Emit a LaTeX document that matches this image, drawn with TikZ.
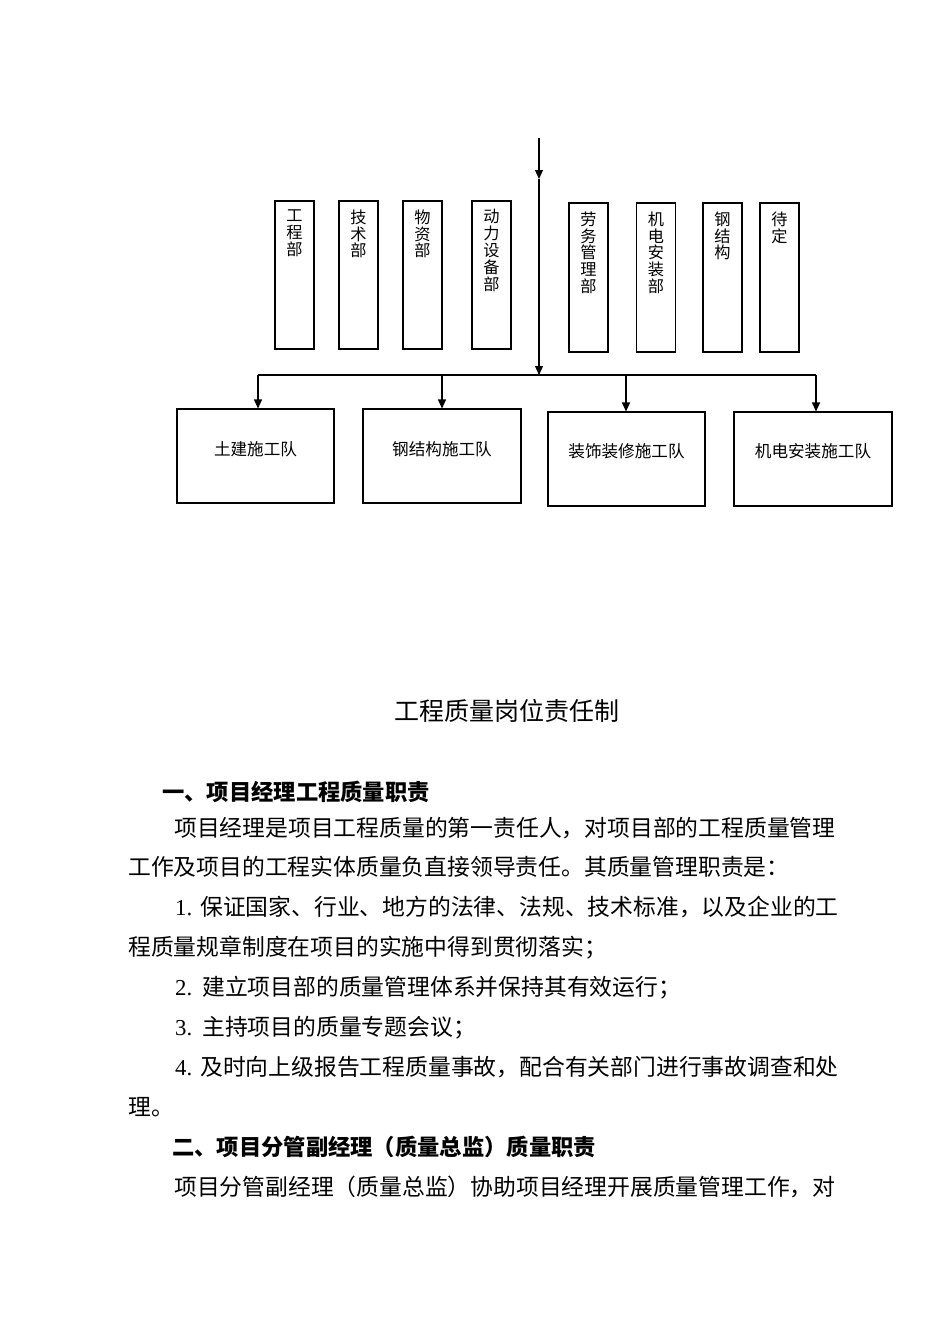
\documentclass[tikz,border=0pt]{standalone}
\usepackage{fontspec}
\newfontfamily\cjk{Noto Sans CJK SC}
\newfontfamily\lat{Liberation Serif}
\usetikzlibrary{arrows.meta}
\begin{document}
\begin{tikzpicture}[x=1pt,y=-1pt,
  line/.style={line width=1.1pt},
  conn/.style={line width=1.1pt,-{Triangle[length=9pt,width=8pt]}},
  dept/.style={draw,line width=1.1pt,minimum width=39pt,inner sep=0pt},
  dtext/.style={anchor=north,align=center,inner sep=0pt,font=\cjk\fontsize{16.2}{16.8}\selectfont},
  team/.style={draw,line width=1.1pt,minimum width=157pt,minimum height=94pt,inner sep=0pt},
  ttext/.style={inner sep=0pt,font=\cjk\fontsize{16.6}{18}\selectfont},
  body/.style={anchor=west,inner sep=0pt,text height=0.85em,text depth=0.15em,font=\cjk\fontsize{22.8}{26}\selectfont},
  num/.style={anchor=west,inner sep=0pt,text height=0.85em,text depth=0.15em,font=\lat\fontsize{22.8}{26}\selectfont},
  head/.style={anchor=west,inner sep=0pt,text height=0.85em,text depth=0.15em,font=\cjk\bfseries\fontsize{22.3}{26}\selectfont},
  title/.style={inner sep=0pt,font=\cjk\fontsize{25}{28}\selectfont}]
\useasboundingbox[fill=white] (0,0) rectangle (950,1344);

% department boxes
\node[dept,minimum height=148pt] (d1) at (294.5,275) {};
\node[dept,minimum height=148pt] (d2) at (358.5,275) {};
\node[dept,minimum height=148pt] (d3) at (422.5,275) {};
\node[dept,minimum height=148pt] (d4) at (491.5,275) {};
\node[dept,minimum height=149pt] (d5) at (588.5,277.5) {};
\node[dept,minimum height=149pt] (d6) at (656,277.5) {};
\node[dept,minimum height=149pt] (d7) at (722.5,277.5) {};
\node[dept,minimum height=149pt] (d8) at (779.5,277.5) {};
\node[dtext] (d1t) at ([yshift=-9pt]d1.north) {工\\程\\部};
\node[dtext] (d2t) at ([yshift=-9pt]d2.north) {技\\术\\部};
\node[dtext] (d3t) at ([yshift=-9pt]d3.north) {物\\资\\部};
\node[dtext] (d4t) at ([yshift=-9pt]d4.north) {动\\力\\设\\备\\部};
\node[dtext] (d5t) at ([yshift=-9pt]d5.north) {劳\\务\\管\\理\\部};
\node[dtext] (d6t) at ([yshift=-9pt]d6.north) {机\\电\\安\\装\\部};
\node[dtext] (d7t) at ([yshift=-9pt]d7.north) {钢\\结\\构};
\node[dtext] (d8t) at ([yshift=-9pt]d8.north) {待\\定};

% team boxes
\node[team] (b1) at (255.5,456) {};
\node[team,minimum width=158pt] (b2) at (442,456) {};
\node[team] (b3) at (626.5,459) {};
\node[team,minimum width=158pt] (b4) at (813,459) {};
\node[ttext] (b1t) at ([yshift=7pt]b1.center) {土建施工队};
\node[ttext] (b2t) at ([yshift=7pt]b2.center) {钢结构施工队};
\node[ttext] (b3t) at ([yshift=8pt]b3.center) {装饰装修施工队};
\node[ttext] (b4t) at ([yshift=8pt]b4.center) {机电安装施工队};

% connectors
\coordinate (top) at (539,138);
\coordinate (mid) at (539,179);
\coordinate (bus) at (539,375);
\coordinate (j1) at (258,375);
\coordinate (j2) at (442,375);
\coordinate (j3) at (626,375);
\coordinate (j4) at (816,375);
\draw[conn] (top) -- (mid);
\draw[conn] (mid) -- (bus);
\draw[line] (j1) -- (j4);
\draw[conn] (j1) -- (j1 |- b1.north);
\draw[conn] (j2) -- (j2 |- b2.north);
\draw[conn] (j3) -- (j3 |- b3.north);
\draw[conn] (j4) -- (j4 |- b4.north);

% text
\node[title] (ttl) at (507,711) {工程质量岗位责任制};
\node[head] (h1) at (162,797) {一、项目经理工程质量职责};
\node[body] (p1) at (174,833) {项目经理是项目工程质量的第一责任人，对项目部的工程质量管理};
\node[body] (p2) at (128,872) {工作及项目的工程实体质量负直接领导责任。其质量管理职责是：};
\node[num] (n1) at (175,912) {1.};
\node[body] (p3) at (200,912) {保证国家、行业、地方的法律、法规、技术标准，以及企业的工};
\node[body] (p4) at (128,952) {程质量规章制度在项目的实施中得到贯彻落实；};
\node[num] (n2) at (175,992) {2.};
\node[body] (p5) at (202,992) {建立项目部的质量管理体系并保持其有效运行；};
\node[num] (n3) at (175,1032) {3.};
\node[body] (p6) at (202,1032) {主持项目的质量专题会议；};
\node[num] (n4) at (175,1072) {4.};
\node[body] (p7) at (200,1072) {及时向上级报告工程质量事故，配合有关部门进行事故调查和处};
\node[body] (p8) at (128,1112) {理。};
\node[head] (h2) at (172,1152) {二、项目分管副经理（质量总监）质量职责};
\node[body] (p9) at (174,1192) {项目分管副经理（质量总监）协助项目经理开展质量管理工作，对};
\end{tikzpicture}
\end{document}
